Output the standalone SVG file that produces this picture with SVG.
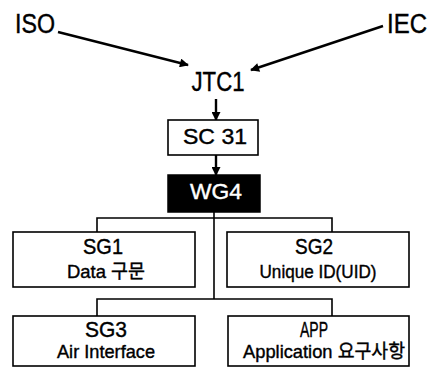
<svg xmlns="http://www.w3.org/2000/svg" width="434" height="371" viewBox="0 0 434 371">
<defs>
<marker id="ah2" viewBox="0 0 10 10" refX="9" refY="5" markerWidth="10" markerHeight="9" orient="auto" markerUnits="userSpaceOnUse">
<path d="M0,0 L10,5 L0,10 z" fill="#000"/>
</marker>
<style>
text{font-family:"Liberation Sans","Noto Sans CJK KR",sans-serif;fill:#000;text-anchor:middle;stroke:#000;stroke-width:0.4}
.box{fill:#fff;stroke:#000;stroke-width:1.6}
.dark{fill:#000;stroke:#000;stroke-width:1.5}
.ln{stroke:#000;stroke-width:1.6;fill:none}
.ar{stroke:#000;stroke-width:2.4;fill:none}
.big{font-size:27px}
.mid{font-size:22px}
.sm{font-size:19px}
</style>
</defs>
<g id="connectors">
<line class="ar" x1="58" y1="32" x2="188" y2="65" marker-end="url(#ah2)"/>
<line class="ar" x1="383" y1="26" x2="251" y2="70" marker-end="url(#ah2)"/>
<line class="ar" x1="216" y1="99" x2="216" y2="120" marker-end="url(#ah2)"/>
<line class="ar" x1="216" y1="155" x2="216" y2="175" marker-end="url(#ah2)"/>
<path class="ln" d="M214,212 V299"/>
<path class="ln" d="M97,232 V218 H332 V232"/>
<path class="ln" d="M97,316 V299 H332 V316"/>
</g>
<g id="iso"><text class="big" x="35" y="33" textLength="40" lengthAdjust="spacingAndGlyphs">ISO</text></g>
<g id="iec"><text class="big" x="407" y="33" textLength="40" lengthAdjust="spacingAndGlyphs">IEC</text></g>
<g id="jtc1"><text class="big" x="218" y="91" textLength="53" lengthAdjust="spacingAndGlyphs">JTC1</text></g>
<g id="sc31"><rect class="box" x="168" y="120" width="90" height="35"/><text class="mid" x="215" y="144" textLength="64" lengthAdjust="spacingAndGlyphs">SC 31</text></g>
<g id="wg4"><rect class="dark" x="168" y="175" width="92" height="37"/><text class="mid" x="216" y="199" textLength="52" lengthAdjust="spacingAndGlyphs" style="fill:#fff;stroke:#fff">WG4</text></g>
<g id="sg1"><rect class="box" x="13" y="232" width="182" height="55"/><text class="mid" x="103" y="254" textLength="40" lengthAdjust="spacingAndGlyphs">SG1</text><text class="sm" x="106" y="278" textLength="78" lengthAdjust="spacingAndGlyphs">Data 구문</text></g>
<g id="sg2"><rect class="box" x="227" y="232" width="182" height="55"/><text class="mid" x="314" y="254" textLength="38" lengthAdjust="spacingAndGlyphs">SG2</text><text class="sm" x="318" y="278" textLength="117" lengthAdjust="spacingAndGlyphs">Unique ID(UID)</text></g>
<g id="sg3"><rect class="box" x="13" y="316" width="182" height="50"/><text class="mid" x="106" y="337" textLength="42" lengthAdjust="spacingAndGlyphs">SG3</text><text class="sm" x="106" y="358" textLength="98" lengthAdjust="spacingAndGlyphs">Air Interface</text></g>
<g id="app"><rect class="box" x="228" y="316" width="181" height="50"/><text class="mid" x="314" y="337" textLength="28" lengthAdjust="spacingAndGlyphs">APP</text><text class="sm" x="324" y="358" textLength="162" lengthAdjust="spacingAndGlyphs">Application 요구사항</text></g>
</svg>
